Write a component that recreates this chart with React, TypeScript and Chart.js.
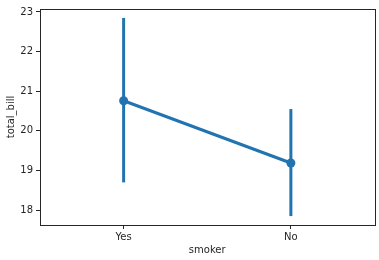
import React, { useEffect, useRef } from "react";
import { Chart, registerables } from "chart.js";

Chart.register(...registerables);

const categories = ["Yes", "No"];
const means = [20.76, 19.19];
const ciLow = [18.7, 17.85];
const ciHigh = [22.85, 20.55];
const yTicks = [18, 19, 20, 21, 22, 23];

const BLUE = "#2274b0";

const errorBars = {
  id: "errorBars",
  afterDatasetsDraw(chart: any) {
    const { ctx, scales } = chart;
    const x = scales.x, y = scales.y;
    ctx.save();
    ctx.strokeStyle = BLUE;
    ctx.lineWidth = 3;
    ctx.lineCap = "butt";
    categories.forEach((_, i) => {
      const px = x.getPixelForValue(i);
      ctx.beginPath();
      ctx.moveTo(px, y.getPixelForValue(ciLow[i]));
      ctx.lineTo(px, y.getPixelForValue(ciHigh[i]));
      ctx.stroke();
    });
    ctx.restore();
  },
  afterDraw(chart: any) {
    const { ctx, chartArea } = chart;
    ctx.save();
    ctx.strokeStyle = "#262626";
    ctx.lineWidth = 1;
    ctx.strokeRect(
      Math.round(chartArea.left) + 0.5,
      Math.round(chartArea.top) + 0.5,
      Math.round(chartArea.right - chartArea.left),
      Math.round(chartArea.bottom - chartArea.top)
    );
    ctx.restore();
  },
};

export default function App() {
  const ref = useRef<HTMLCanvasElement>(null);
  useEffect(() => {
    document.body.style.margin = "0";
    const chart = new Chart(ref.current!, {
      type: "line",
      data: {
        datasets: [
          {
            data: means.map((m, i) => ({ x: i, y: m })),
            borderColor: BLUE,
            backgroundColor: BLUE,
            borderWidth: 3,
            pointRadius: 4.5,
            pointHoverRadius: 4.5,
            pointBorderWidth: 0,
          },
        ],
      },
      options: {
        responsive: false,
        animation: false,
        layout: { padding: { top: 7, right: 4, left: 5, bottom: 4 } },
        plugins: { legend: { display: false }, tooltip: { enabled: false } },
        scales: {
          x: {
            type: "linear",
            min: -0.5,
            max: 1.5,
            afterBuildTicks: (s: any) => {
              s.ticks = categories.map((_, i) => ({ value: i }));
            },
            afterFit: (s: any) => {
              s.height = 31;
            },
            ticks: {
              callback: (v: any) => categories[v] ?? "",
              color: "#262626",
              font: { family: "DejaVu Sans", size: 10 },
              padding: 2,
              maxRotation: 0,
            },
            grid: { drawOnChartArea: false, drawTicks: true, tickLength: 4, color: "#262626" },
            border: { display: false },
            title: {
              display: true,
              text: "smoker",
              color: "#262626",
              font: { family: "DejaVu Sans", size: 10 },
              padding: { top: 1, bottom: 0 },
            },
          },
          y: {
            type: "linear",
            min: 17.625,
            max: 23.075,
            afterBuildTicks: (s: any) => {
              s.ticks = yTicks.map((v) => ({ value: v }));
            },
            afterFit: (s: any) => {
              s.width = 35;
            },
            ticks: {
              color: "#262626",
              font: { family: "DejaVu Sans", size: 10 },
              padding: 3,
            },
            grid: { drawOnChartArea: false, drawTicks: true, tickLength: 4, color: "#262626" },
            border: { display: false },
            title: {
              display: true,
              text: "total_bill",
              color: "#262626",
              font: { family: "DejaVu Sans", size: 10 },
              padding: { top: 0, bottom: 2 },
            },
          },
        },
      },
      plugins: [errorBars],
    } as any);
    return () => chart.destroy();
  }, []);
  return <canvas ref={ref} width={379} height={260} style={{ display: "block" }} />;
}
